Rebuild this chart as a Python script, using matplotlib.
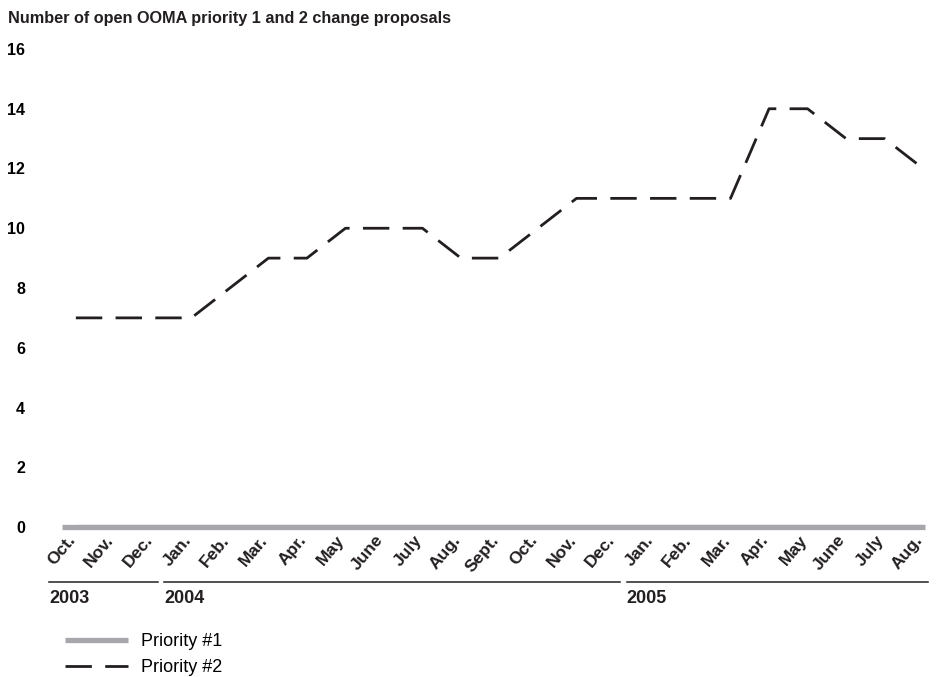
import numpy as np
import matplotlib.pyplot as plt
import matplotlib.transforms as mtransforms
from matplotlib.lines import Line2D

plt.rcParams['font.family'] = ['Liberation Sans', 'DejaVu Sans']

# data
months = ['Oct.', 'Nov.', 'Dec.',
          'Jan.', 'Feb.', 'Mar.', 'Apr.', 'May', 'June', 'July', 'Aug.', 'Sept.', 'Oct.', 'Nov.', 'Dec.',
          'Jan.', 'Feb.', 'Mar.', 'Apr.', 'May', 'June', 'July', 'Aug.']
priority1 = [0] * 23
priority2 = [7, 7, 7, 7, 8, 9, 9, 10, 10, 10, 9, 9, 10, 11, 11, 11, 11, 11, 14, 14, 13, 13, 12]
years = ['2003', '2004', '2005']
year_first = [0, 3, 15]
year_last = [2, 14, 22]

GRAY = '#a7a7ab'
DARK = '#231f20'

fig = plt.figure(figsize=(9.36, 6.77), dpi=100)
ax = fig.add_axes([62 / 936, 1 - 527 / 677, 863 / 936, 478 / 677])

x = np.arange(len(months))
ax.plot(x, priority1, color=GRAY, lw=3.8, solid_capstyle='butt', label='Priority #1')
ax.plot(x, priority2, color=DARK, lw=2, dashes=(9.5, 4.8), label='Priority #2')

ax.set_xlim(-0.36, 22.05)
ax.set_ylim(0, 16)
for s in ['top', 'right', 'left']:
    ax.spines[s].set_visible(False)
ax.spines['bottom'].set_color(GRAY)
ax.spines['bottom'].set_linewidth(3.8)
ax.spines['bottom'].set_capstyle('butt')

ax.set_yticks(range(0, 17, 2))
ax.tick_params(axis='y', length=0, pad=26.5, labelsize=11.5)
for t in ax.get_yticklabels():
    t.set_fontweight('bold')

ax.set_xticks(x)
ax.set_xticklabels(months, rotation=50, ha='right', va='top', rotation_mode='anchor',
                   fontsize=12.5, fontweight='bold', color=DARK)
ax.tick_params(axis='x', length=0, pad=4)
shift = mtransforms.ScaledTranslation(-9 / 100, 0, fig.dpi_scale_trans)
for t in ax.get_xticklabels():
    t.set_transform(t.get_transform() + shift)

# year brackets under the month labels
tr = ax.get_xaxis_transform()
for name, a, b in zip(years, year_first, year_last):
    ax.plot([a - 0.7, b + 0.14], [-0.115, -0.115], color=DARK, lw=1.1,
            transform=tr, clip_on=False)
    ax.text(a - 0.7, -0.15, name, transform=tr, ha='left', va='center',
            fontsize=13, fontweight='bold', color=DARK)

fig.text(8 / 936, 1 - 18 / 677, 'Number of open OOMA priority 1 and 2 change proposals',
         ha='left', va='center', fontsize=11.7, fontweight='bold', color=DARK)

handles = [Line2D([], [], color=GRAY, lw=3.8, solid_capstyle='butt'),
           Line2D([], [], color=DARK, lw=2, dashes=(9.5, 4.8))]
fig.legend(handles, ['Priority #1', 'Priority #2'], loc='upper left',
           bbox_to_anchor=(65 / 936, 1 - 633 / 677), frameon=False, borderpad=0,
           borderaxespad=0, handlelength=3.5, handletextpad=0.72, labelspacing=0.5,
           prop={'size': 13})

plt.savefig('out.png', dpi=100)
